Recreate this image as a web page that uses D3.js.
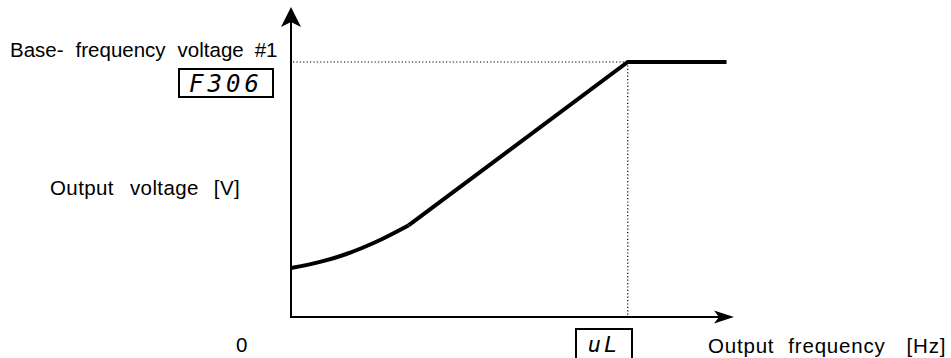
<!DOCTYPE html>
<html>
<head>
<meta charset="utf-8">
<script src="https://cdn.jsdelivr.net/npm/d3@7/dist/d3.min.js"></script>
<style>
  html, body { margin: 0; padding: 0; background: #fff; }
  svg { display: block; }
  text { font-family: Arial, "Liberation Sans", sans-serif; fill: #000; }
</style>
</head>
<body>
<svg id="chart" width="951" height="358"></svg>
<script>
// V/f characteristic: output voltage versus output frequency
const frequency = [0, 5, 10, 15, 21, 60, 77.6];            // Hz
const voltage   = [19.2, 21.5, 24.8, 29.3, 36, 100, 100];  // % of base voltage
const curveEnd = 4;          // index where the boosted start region turns straight
const baseFrequency = 60;
const baseVoltage = 100;

const labels = {
  baseVoltage: "Base- frequency voltage #1",
  baseVoltageParam: "F306",
  baseFrequencyParam: "uL",
  yTitle: "Output voltage [V]",
  xTitle: "Output frequency [Hz]",
  origin: "0"
};

const svg = d3.select("#chart");

const x = d3.scaleLinear().domain([0, 80]).range([291, 740]);
const y = d3.scaleLinear().domain([0, 100]).range([317, 62]);

// axes with arrow heads
function arrowHead(tipX, tipY, dir) {
  const L = 20, W = 10, notch = 5;
  let pts;
  if (dir === "up") {
    pts = [[tipX, tipY], [tipX + W, tipY + L], [tipX, tipY + L - notch], [tipX - W, tipY + L]];
  } else {
    pts = [[tipX, tipY], [tipX - L, tipY + W * 0.65], [tipX - L + notch, tipY], [tipX - L, tipY - W * 0.65]];
  }
  svg.append("path").attr("d", d3.line()(pts) + "Z").attr("fill", "#000");
}

const x0 = x(0), y0 = y(0);
svg.append("line").attr("x1", x0).attr("y1", y0).attr("x2", x0).attr("y2", 20)
  .attr("stroke", "#000").attr("stroke-width", 2);
arrowHead(x0, 7, "up");
svg.append("line").attr("x1", x0 - 1).attr("y1", y0).attr("x2", 725).attr("y2", y0)
  .attr("stroke", "#000").attr("stroke-width", 2);
arrowHead(734, y0, "right");

// dotted guides to base frequency / base voltage
svg.append("line")
  .attr("x1", x0 + 2).attr("y1", y(baseVoltage)).attr("x2", x(baseFrequency)).attr("y2", y(baseVoltage))
  .attr("stroke", "#000").attr("stroke-width", 1.2).attr("stroke-dasharray", "1.2,2.2");
svg.append("line")
  .attr("x1", x(baseFrequency)).attr("y1", y(baseVoltage)).attr("x2", x(baseFrequency)).attr("y2", y0)
  .attr("stroke", "#000").attr("stroke-width", 1.2).attr("stroke-dasharray", "1.2,2.2");

// characteristic curve
const pts = frequency.map((f, i) => [f, voltage[i]]);
const curved = d3.line().x(d => x(d[0])).y(d => y(d[1])).curve(d3.curveMonotoneX);
const straight = d3.line().x(d => x(d[0])).y(d => y(d[1]));
svg.append("path").attr("d", curved(pts.slice(0, curveEnd + 1)))
  .attr("fill", "none").attr("stroke", "#000").attr("stroke-width", 4);
svg.append("path").attr("d", straight(pts.slice(curveEnd)))
  .attr("fill", "none").attr("stroke", "#000").attr("stroke-width", 4)
  .attr("stroke-linejoin", "miter");

// a label whose words sit with wide gaps between them
function spacedLabel(str, px, py, gaps, size, tracking) {
  const t = svg.append("text").attr("x", px).attr("y", py).attr("font-size", size)
    .attr("letter-spacing", tracking || 0);
  const spaceW = size * 0.278 + (tracking || 0);
  str.split(" ").forEach((w, i) => {
    const s = t.append("tspan").text(i === 0 ? w : " " + w);
    if (i > 0) s.attr("dx", gaps[i - 1] - spaceW);
  });
  return t;
}

spacedLabel(labels.baseVoltage, 10, 57, [12, 12, 11], 20.5);

svg.append("rect").attr("x", 179).attr("y", 69).attr("width", 94).attr("height", 28)
  .attr("fill", "none").attr("stroke", "#000").attr("stroke-width", 2);
svg.append("text").attr("x", 226).attr("y", 92).attr("text-anchor", "middle")
  .attr("font-size", 24).attr("font-style", "italic").attr("letter-spacing", 4)
  .style("font-family", "'DejaVu Sans Mono', monospace")
  .text(labels.baseVoltageParam);

spacedLabel(labels.yTitle, 50, 195, [16, 15], 20.5, 0.4);

svg.append("text").attr("x", 236).attr("y", 352).attr("font-size", 20.5).text(labels.origin);

svg.append("rect").attr("x", 576).attr("y", 329).attr("width", 56).attr("height", 34)
  .attr("fill", "none").attr("stroke", "#000").attr("stroke-width", 2);
svg.append("text").attr("x", 604).attr("y", 352).attr("text-anchor", "middle")
  .attr("font-size", 22).attr("font-style", "italic").attr("letter-spacing", 3)
  .style("font-family", "'DejaVu Sans Mono', monospace")
  .text(labels.baseFrequencyParam);

spacedLabel(labels.xTitle, 708, 353, [14, 21], 20.5, 0.8);
</script>
</body>
</html>
